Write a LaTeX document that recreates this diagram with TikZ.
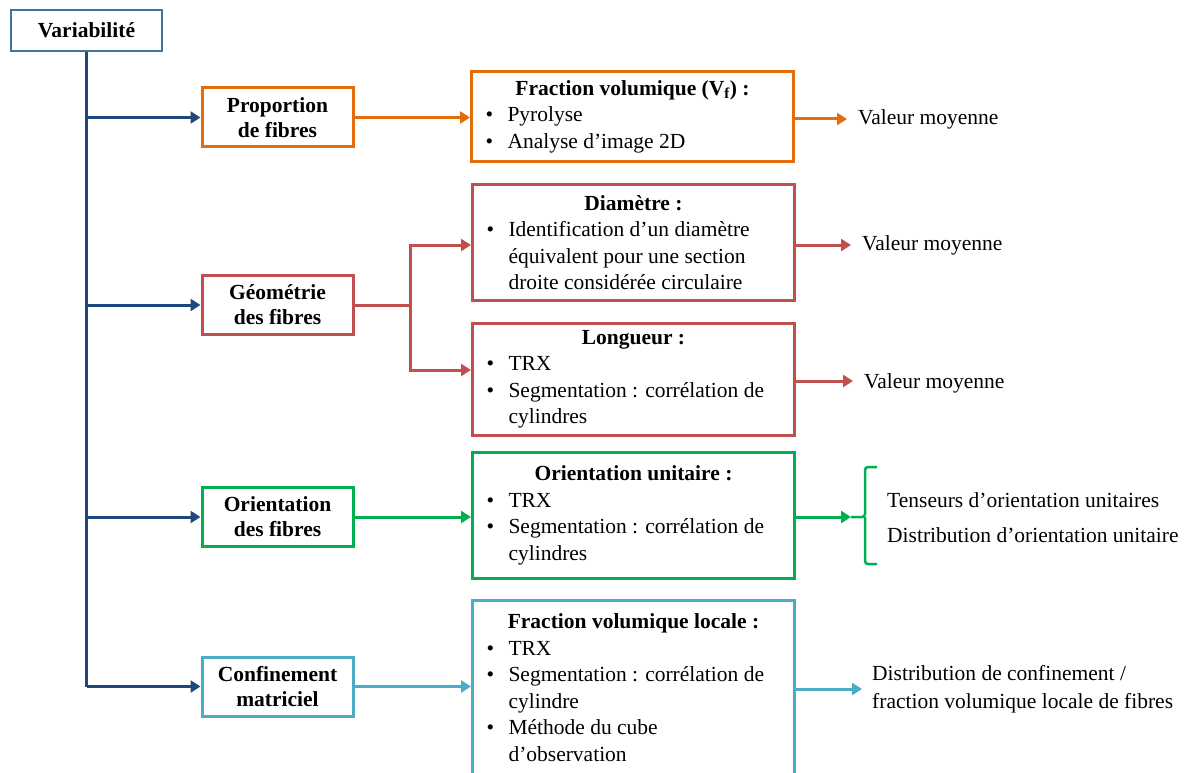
\documentclass[tikz,border=0pt]{standalone}
\usepackage{fontspec}
\setmainfont{Liberation Serif}
\usetikzlibrary{arrows.meta,positioning,calc}
\definecolor{trunkblue}{HTML}{1F497D}
\definecolor{rootblue}{HTML}{41719C}
\definecolor{proporange}{HTML}{E46C0A}
\definecolor{geored}{HTML}{C0504D}
\definecolor{origreen}{HTML}{00B050}
\definecolor{confcyan}{HTML}{4BACC6}
\newcommand{\puce}{\par\noindent\hangindent=22pt\hangafter=1\makebox[22pt][l]{\textbullet}}
\newcommand{\titre}[1]{\centerline{\bfseries #1}}
\newcommand{\methodes}[1]{\begin{minipage}{294pt}\raggedright #1\end{minipage}}

\begin{document}
\begin{tikzpicture}[x=1pt,y=-1pt, every node/.style={font=\fontsize{21.5}{26.5}\selectfont},
  catbox/.style={draw,line width=3pt,minimum width=151pt,minimum height=59pt,inner sep=0pt,align=center,font=\fontsize{21.5}{25}\selectfont\bfseries},
  methbox/.style={draw,line width=3pt,minimum width=322pt,inner xsep=14pt,inner ysep=0pt},
  outtext/.style={anchor=west,inner xsep=6pt,inner ysep=0pt,align=left},
  link/.style={line width=3pt,-{Triangle[length=10pt,width=12pt]}}]
\useasboundingbox (0,0) rectangle (1191,773);

% colonne de gauche
\node[catbox,draw=rootblue,line width=2.5pt,minimum height=41pt] (var) at (86.5,30.5) {Variabilité};
\node[catbox,draw=proporange] (prop) at (277.5,117.5) {Proportion\\de fibres};
\node[catbox,draw=geored] (geo) at (277.5,305) {Géométrie\\des fibres};
\node[catbox,draw=origreen] (ori) at (277.5,517) {Orientation\\des fibres};
\node[catbox,draw=confcyan] (conf) at (277.5,686.5) {Confinement\\matriciel};

% methodes
\node[methbox,draw=proporange,minimum height=90pt,minimum width=320pt] (vf) at (632.5,116.5)
  {\methodes{\titre{Fraction volumique (V\textsubscript{f}) :}\puce Pyrolyse\puce Analyse d’image 2D}};
\node[methbox,draw=geored,minimum height=116pt] (diam) at (633.5,242.5)
  {\methodes{\titre{Diamètre :}\puce Identification d’un diamètre\newline équivalent pour une section\newline droite considérée circulaire}};
\node[methbox,draw=geored,minimum height=112pt] (long) at (633.5,379.5)
  {\methodes{\titre{Longueur :}\puce TRX\puce Segmentation : corrélation de\newline cylindres}};
\node[methbox,draw=origreen,minimum height=126pt] (ori2) at (633.5,515.5)
  {\methodes{\titre{Orientation unitaire :}\puce TRX\puce Segmentation : corrélation de\newline cylindres}};
\node[methbox,draw=confcyan,minimum height=174pt] (loc) at (633.5,687.5)
  {\methodes{\titre{Fraction volumique locale :}\puce TRX\puce Segmentation : corrélation de\newline cylindre\puce Méthode du cube\newline d’observation}};

% resultats
\node[outtext] (val1) at (852,119) {Valeur moyenne};
\node[outtext] (val2) at (856,245) {Valeur moyenne};
\node[outtext] (val3) at (858,383) {Valeur moyenne};
\node[outtext] (orires) at (881,517.5) {Tenseurs d’orientation unitaires\\[8pt]Distribution d’orientation unitaire};
\node[outtext] (confres) at (866,689) {Distribution de confinement /\\[1.5pt]fraction volumique locale de fibres};
\coordinate (fork) at (410,305);
\coordinate (brace) at (851,517);

% tronc
\draw[line width=3.2pt,trunkblue] (var.south) -- (var.south |- conf.west);
\foreach \n in {prop,geo,ori,conf}
  \draw[link,trunkblue] (var.south |- \n.west) -- (\n.west);

\draw[link,proporange] (prop.east) -- (prop.east -| vf.west);
\draw[link,proporange,shorten >=5pt] (vf.east |- val1.west) -- (val1.west);

\draw[line width=3pt,geored] (geo.east) -- (fork);
\draw[link,geored] (fork) |- ($(diam.west)+(0,2.5)$);
\draw[link,geored] (fork) |- ($(long.west)+(0,-9.5)$);
\draw[link,geored,shorten >=5pt] (diam.east |- val2.west) -- (val2.west);
\draw[link,geored,shorten >=5pt] ($(long.east)+(0,1.5)$) -- ($(long.east -| val3.west)+(0,1.5)$);

\draw[link,origreen] (ori.east) -- (ori.east -| ori2.west);
\draw[line width=2.5pt,origreen,rounded corners=3pt] (877,467) -| (865,517) -- (brace) (865,517) |- (877,564);
\draw[link,origreen] (ori2.east |- brace) -- (brace);

\draw[link,confcyan] (conf.east) -- (conf.east -| loc.west);
\draw[link,confcyan,shorten >=4pt] (loc.east |- confres.west) -- (confres.west);
\end{tikzpicture}
\end{document}
